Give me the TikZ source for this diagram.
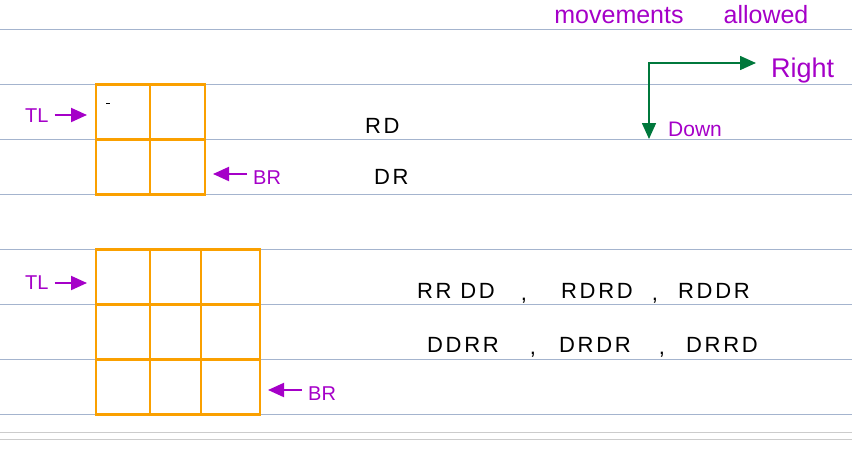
\documentclass[tikz,border=0pt]{standalone}
\usepackage{fontspec}
\setmainfont{Liberation Sans}
\usetikzlibrary{arrows.meta}
\definecolor{pencil}{RGB}{165,0,200}
\definecolor{boxorange}{RGB}{250,160,0}
\definecolor{arrowgreen}{RGB}{0,120,60}
\definecolor{ruling}{RGB}{164,180,206}

\begin{document}
\begin{tikzpicture}[x=1pt,y=-1pt,
        ruled/.style={ruling,line width=1.1pt},
        cell/.style={boxorange,line width=2.2pt},
        pen/.style={pencil,line width=2pt,shorten <=6pt,-{Triangle[length=16pt,width=14pt]}},
        go/.style={arrowgreen,line width=1.6pt,{Triangle[length=16pt,width=14pt]}-{Triangle[length=16pt,width=14pt]}},
        ink/.style={inner sep=0pt,font=\fontsize{22}{26}\selectfont\addfontfeature{LetterSpace=12}},
        note/.style={ink,text=pencil},
        tag/.style={note,font=\fontsize{20}{24}\selectfont,anchor=base west}]
        \useasboundingbox (0,0) rectangle (852,469);
        % ruled paper
        \foreach \i in {0,...,7}
            \draw[ruled] (0,29.5+55*\i) -- (852,29.5+55*\i);
        \draw[gray!40,line width=1pt] (0,432) -- (852,432) (0,439.5) -- (852,439.5);

        % 2x2 grid
        \draw[cell] (96,84.5) rectangle (205,194.5);
        \draw[cell] (150,84.5) -- (150,194.5) (96,139.5) -- (205,139.5);
        \draw[line width=1pt] (106,103) -- (110,103);
        % 3x3 grid
        \draw[cell] (96,249.5) rectangle (260,414.5);
        \draw[cell] (150,249.5) -- (150,414.5) (201,249.5) -- (201,414.5);
        \draw[cell] (96,304.5) -- (260,304.5) (96,359.5) -- (260,359.5);

        % corner labels
        \coordinate (tl1tip) at (87,115);
        \coordinate (br1tip) at (213,174);
        \coordinate (tl2tip) at (87,283);
        \coordinate (br2tip) at (268,390);
        \node[tag] (tl1) at (25,122) {TL};
        \node[tag] (br1) at (253,184) {BR};
        \node[tag] (tl2) at (25,289) {TL};
        \node[tag] (br2) at (308,400) {BR};
        \draw[pen] (tl1.east |- tl1tip) -- (tl1tip);
        \draw[pen] (br1.west |- br1tip) -- (br1tip);
        \draw[pen] (tl2.east |- tl2tip) -- (tl2tip);
        \draw[pen] (br2.west |- br2tip) -- (br2tip);

        % paths for 2x2
        \node[ink,anchor=base west] (rd) at (365,133) {RD};
        \node[ink,anchor=base west] (dr) at (374,184) {DR};

        % paths for 3x3
        \node[ink,anchor=base west] (rrdd) at (417,298) {RR DD};
        \node[ink,anchor=base] (c1) at (524,300) {,};
        \node[ink,anchor=base west] (rdrd) at (561,298) {RDRD};
        \node[ink,anchor=base] (c2) at (655,300) {,};
        \node[ink,anchor=base west] (rddr) at (678,298) {RDDR};
        \node[ink,anchor=base west] (ddrr) at (427,352) {DDRR};
        \node[ink,anchor=base] (c3) at (533,354) {,};
        \node[ink,anchor=base west] (drdr) at (559,352) {DRDR};
        \node[ink,anchor=base] (c4) at (662,354) {,};
        \node[ink,anchor=base west] (drrd) at (686,352) {DRRD};

        % movements allowed
        \node[note,font=\fontsize{25}{30}\selectfont,anchor=base] (moves) at (619,23) {movements};
        \node[note,font=\fontsize{25}{30}\selectfont,anchor=base] (allowed) at (766,23) {allowed};
        \coordinate (corner) at (649,63);
        \coordinate (rtip) at (756,63);
        \coordinate (dtip) at (649,139);
        \draw[go] (rtip) -- (corner) -- (dtip);
        \node[note,font=\fontsize{27}{32}\selectfont,anchor=base west] (right) at (771,77) {Right};
        \node[note,font=\fontsize{21}{25}\selectfont,anchor=base west] (down) at (668,136) {Down};
\end{tikzpicture}
\end{document}
